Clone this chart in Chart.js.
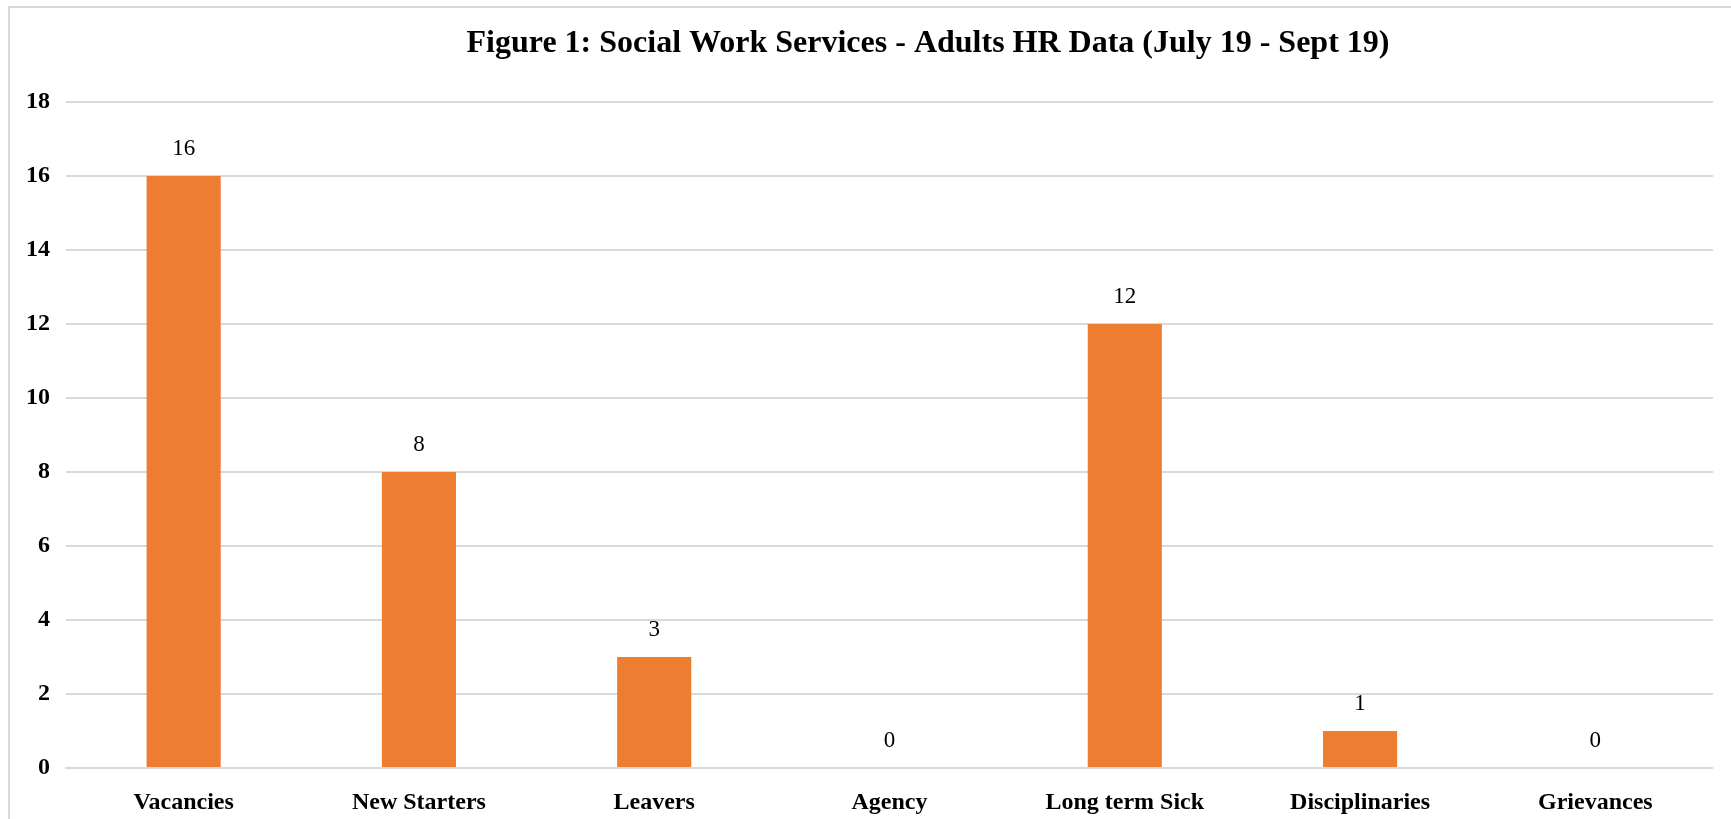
<!DOCTYPE html>
<html>
<head>
<meta charset="utf-8">
<script src="https://cdn.jsdelivr.net/npm/chart.js@4.4.1/dist/chart.umd.min.js"></script>
<style>
  html, body { margin: 0; padding: 0; background: #ffffff; overflow: hidden; width: 1731px; height: 819px; }
  #frame { position: absolute; left: 8px; top: 6px; width: 1836px; height: 840px;
           border-left: 2px solid #d9d9d9; border-top: 2px solid #d9d9d9; background: #fff; }
  #wrap { position: absolute; left: 0; top: 0; width: 1703px; height: 830px; }
</style>
</head>
<body>
<div id="frame"><div id="wrap"><canvas id="c"></canvas></div></div>
<script>
const titleText = "Figure 1: Social Work Services - Adults HR Data (July 19 - Sept 19)";
const categories = ["Vacancies", "New Starters", "Leavers", "Agency", "Long term Sick", "Disciplinaries", "Grievances"];
const values = [16, 8, 3, 0, 12, 1, 0];
const yTicks = [0, 2, 4, 6, 8, 10, 12, 14, 16, 18];

const FONT = "'Liberation Serif', 'Times New Roman', serif";

const valueLabels = {
  id: 'valueLabels',
  afterDatasetsDraw(chart) {
    const ctx = chart.ctx;
    const meta = chart.getDatasetMeta(0);
    ctx.save();
    ctx.font = "23px " + FONT;
    ctx.fillStyle = "#000000";
    ctx.textAlign = "center";
    ctx.textBaseline = "middle";
    meta.data.forEach((bar, i) => {
      ctx.fillText(String(values[i]), bar.x, bar.y - 27);
    });
    ctx.restore();
  }
};

const chartTitle = {
  id: 'chartTitle',
  afterDraw(chart) {
    const ctx = chart.ctx;
    ctx.save();
    ctx.font = "bold 32px " + FONT;
    ctx.fillStyle = "#000000";
    ctx.textAlign = "center";
    ctx.textBaseline = "middle";
    ctx.fillText(titleText, 918, 35.5);
    ctx.restore();
  }
};

new Chart(document.getElementById('c'), {
  type: 'bar',
  data: {
    labels: categories,
    datasets: [{
      data: values,
      backgroundColor: '#ED7D31',
      borderWidth: 0,
      categoryPercentage: 1.0,
      barPercentage: 0.315
    }]
  },
  options: {
    responsive: true,
    maintainAspectRatio: false,
    animation: false,
    devicePixelRatio: 1,
    layout: { padding: { left: 0, right: 0, top: 94, bottom: 0 } },
    plugins: {
      legend: { display: false },
      tooltip: { enabled: false },
      title: { display: false }
    },
    scales: {
      x: {
        grid: { display: false, drawTicks: false },
        border: { display: true, color: '#d9d9d9', width: 2 },
        ticks: { color: '#000000', font: { family: FONT, size: 24, weight: 'bold' }, padding: 20, maxRotation: 0 },
        afterFit(s) { s.height = 70; }
      },
      y: {
        min: 0, max: 18,
        afterBuildTicks(s) { s.ticks = yTicks.map(v => ({ value: v })); },
        grid: { color: '#d9d9d9', lineWidth: 2, drawTicks: false },
        border: { display: false },
        ticks: { color: '#000000', font: { family: FONT, size: 24, weight: 'bold' }, padding: 16 },
        afterFit(s) { s.width = 56; }
      }
    }
  },
  plugins: [valueLabels, chartTitle]
});
</script>
</body>
</html>
